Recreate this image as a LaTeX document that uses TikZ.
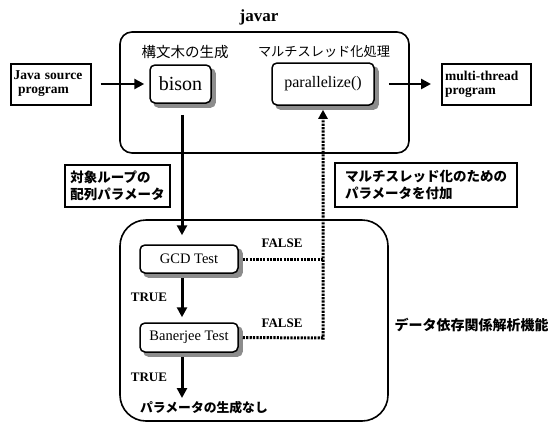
\documentclass[tikz,border=0pt]{standalone}
\usepackage{fontspec}
\setmainfont{Liberation Serif}
\newfontfamily\jp{Noto Sans CJK JP}
\usetikzlibrary{arrows.meta,backgrounds}
\begin{document}
\begin{tikzpicture}[x=1pt,y=-1pt,
  container/.style={draw,line width=1.6pt,inner sep=0pt},
  iobox/.style={draw,line width=2pt,inner sep=3pt,align=left,font=\bfseries\fontsize{13.5}{14}\selectfont,minimum height=41pt},
  procbox/.style={draw,line width=1.5pt,rounded corners=5pt,fill=white},
  shadowbox/.style={fill=black!45,rounded corners=5pt},
  lblbox/.style={draw,line width=2pt,inner sep=3pt,align=left,font=\jp\bfseries\fontsize{13.5}{17}\selectfont},
  flowarrow/.style={line width=3pt,-{Triangle[length=10pt,width=10pt]}},
  dotline/.style={line width=3pt,dash pattern=on 2.2pt off 1.2pt},
  tf/.style={font=\bfseries\fontsize{13}{14}\selectfont}]
\useasboundingbox (0,0) rectangle (548,426);
% containers
\node[container,rounded corners=12pt,minimum width=289pt,minimum height=121pt] (top) at (264.5,92.5) {};
\node[container,rounded corners=26pt,minimum width=268pt,minimum height=201pt] (bot) at (254,320.5) {};
\node[font=\bfseries\fontsize{17}{18}\selectfont] (title) at (259,17) {javar};
\node[font=\jp\fontsize{14.5}{16}\selectfont] (lbl1) at (185,52) {構文木の生成};
\node[font=\jp\fontsize{13.2}{16}\selectfont] (lbl2) at (324,52) {マルチスレッド化処理};
% io boxes
\node[iobox,text width=74pt] (src) at (50.5,84) {Java source\\\ program};
\node[iobox,text width=83pt] (dst) at (486.5,84) {multi-thread\\program};
% process boxes
\node[procbox,minimum width=61pt,minimum height=38pt,font=\fontsize{20}{22}\selectfont] (bison) at (180.5,84) {bison};
\node[procbox,minimum width=102pt,minimum height=42pt,font=\fontsize{16}{18}\selectfont] (par) at (323,84) {parallelize()};
\node[procbox,minimum width=98pt,minimum height=28pt,font=\fontsize{14.5}{16}\selectfont] (gcd) at (189,259) {GCD Test};
\node[procbox,minimum width=98pt,minimum height=29pt,font=\fontsize{14.5}{16}\selectfont] (ban) at (189,337.5) {Banerjee Test};
\begin{scope}[on background layer]
  \foreach \b in {bison,par,gcd,ban}
    \fill[shadowbox] ([shift={(4,4)}]\b.north west) rectangle ([shift={(4,4)}]\b.south east);
\end{scope}
% label boxes
\node[lblbox,minimum width=105pt,minimum height=42pt] (arr) at (117.5,186) {対象ループの\\配列パラメータ};
\node[lblbox,minimum width=182pt,minimum height=44pt] (mtp) at (426,185) {マルチスレッド化のための\\パラメータを付加};
% other texts
\node[tf] (f1) at (282,243) {FALSE};
\node[tf] (f2) at (282,323) {FALSE};
\node[tf] (t1) at (149,297) {TRUE};
\node[tf] (t2) at (149,377) {TRUE};
\node[font=\jp\bfseries\fontsize{12.8}{14}\selectfont] (none) at (204,408) {パラメータの生成なし};
\node[font=\jp\bfseries\fontsize{14}{16}\selectfont,anchor=west] (dep) at (391,325) {データ依存関係解析機能};
\coordinate (end) at (182,398);
\coordinate (jg) at (323,259);
\coordinate (jb) at (323,338);
% connectors
\draw[flowarrow,line width=2.6pt,shorten <=9pt,shorten >=5pt] (src.east) -- (src.east -| bison.west);
\draw[flowarrow,line width=2.6pt,shorten <=14pt,shorten >=10pt] (par.east) -- (par.east -| dst.west);
\draw[flowarrow,shorten <=11pt,shorten >=9pt] ([xshift=1.5pt]bison.south) -- ([xshift=1.5pt]bison.south |- gcd.north);
\draw[flowarrow,shorten <=4pt,shorten >=5pt] ([xshift=-7pt]gcd.south) -- ([xshift=-7pt]gcd.south |- ban.north);
\draw[flowarrow,shorten <=4pt] ([xshift=-7pt]ban.south) -- (end);
\draw[dotline,shorten <=4pt] (gcd.east) -- (jg);
\draw[dotline,shorten <=4pt,-{Triangle[length=9pt,width=9pt]}] (ban.east) -- (jb) -- ([yshift=-4pt]par.south);
\end{tikzpicture}
\end{document}
